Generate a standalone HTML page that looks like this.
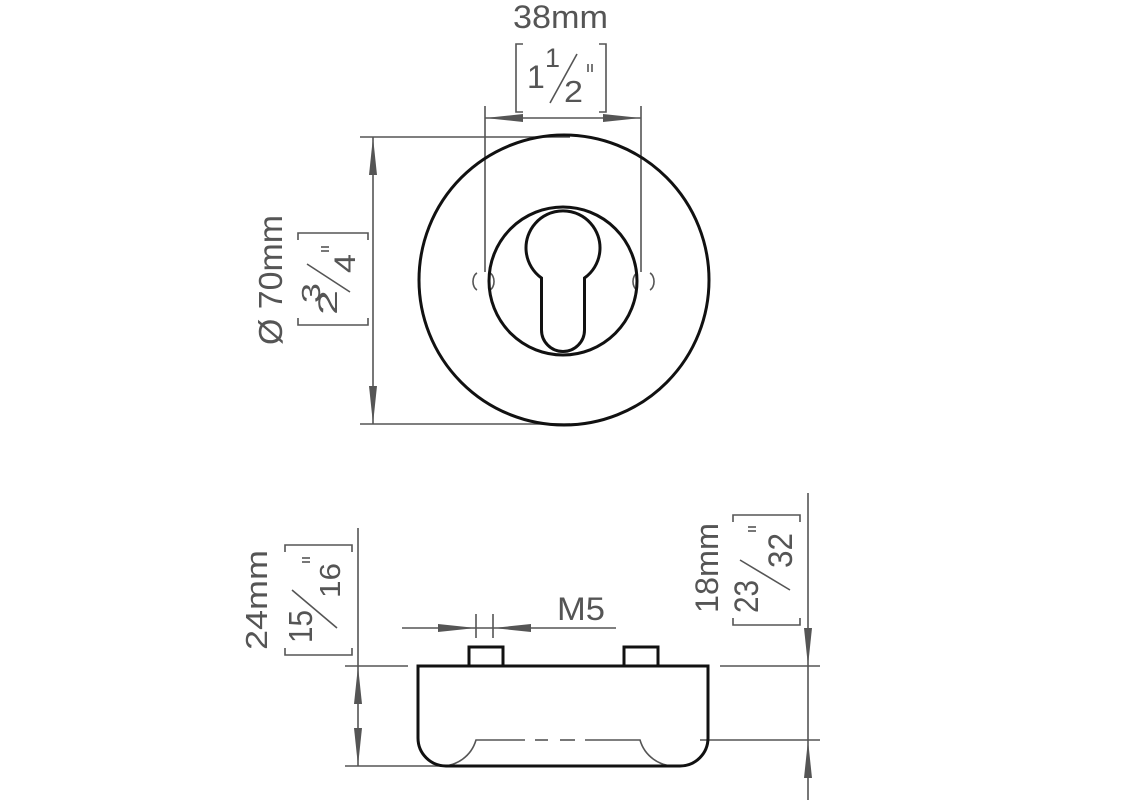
<!DOCTYPE html>
<html><head><meta charset="utf-8"><style>
html,body{margin:0;padding:0;background:#fff;}
svg{display:block;}
text{font-family:"Liberation Sans",Arial,sans-serif;fill:#555;}
</style></head><body>
<svg width="1130" height="800" viewBox="0 0 1130 800" xmlns="http://www.w3.org/2000/svg">
<rect width="1130" height="800" fill="#fff"/>
<g stroke="#555" stroke-width="1.6" fill="none">
  <!-- 38mm dimension -->
  <line x1="485" y1="106" x2="485" y2="272"/>
  <line x1="641" y1="106" x2="641" y2="272"/>
  <line x1="485" y1="118" x2="641" y2="118"/>
  <polyline points="523,44 516,44 516,112 523,112"/>
  <polyline points="599,44 606,44 606,112 599,112"/>
  <line x1="550" y1="103" x2="577" y2="54"/>
  <line x1="588" y1="64" x2="588" y2="72"/>
  <line x1="592" y1="64" x2="592" y2="72"/>
  <!-- 70mm dimension -->
  <line x1="360" y1="137" x2="570" y2="137"/>
  <line x1="360" y1="424" x2="570" y2="424"/>
  <line x1="373" y1="137" x2="373" y2="424"/>
  <polyline points="298,240 298,233 368,233 368,240"/>
  <polyline points="298,318 298,325 368,325 368,318"/>
  <line x1="307" y1="264" x2="350" y2="292"/>
  <line x1="321" y1="247" x2="329" y2="247"/>
  <line x1="321" y1="251" x2="329" y2="251"/>
  <!-- bottom left 24mm -->
  <line x1="345" y1="666" x2="408" y2="666"/>
  <line x1="345" y1="766" x2="445" y2="766"/>
  <line x1="358" y1="528" x2="358" y2="766"/>
  <polyline points="285,552 285,545 352,545 352,552"/>
  <polyline points="285,648 285,655 352,655 352,648"/>
  <line x1="292" y1="590" x2="337" y2="628"/>
  <line x1="302" y1="558" x2="310" y2="558"/>
  <line x1="302" y1="562" x2="310" y2="562"/>
  <!-- right 18mm -->
  <line x1="720" y1="666" x2="820" y2="666"/>
  <line x1="700" y1="740" x2="820" y2="740"/>
  <line x1="808" y1="493" x2="808" y2="800"/>
  <polyline points="733,522 733,515 800,515 800,522"/>
  <polyline points="733,618 733,625 800,625 800,618"/>
  <line x1="740" y1="560" x2="790" y2="590"/>
  <line x1="748" y1="527" x2="756" y2="527"/>
  <line x1="748" y1="531" x2="756" y2="531"/>
  <!-- M5 -->
  <line x1="402" y1="628" x2="616" y2="628"/>
  <line x1="476" y1="614" x2="476" y2="638"/>
  <line x1="493" y1="614" x2="493" y2="638"/>
  <!-- small arcs -->
  <path d="M477,273 A6,9 0 0 0 477,290"/>
  <path d="M490,273 A6,9 0 0 1 490,290"/>
  <path d="M637,273 A6,9 0 0 0 637,290"/>
  <path d="M650,273 A6,9 0 0 1 650,290"/>
  <!-- hidden line -->
  <path d="M440,766 A36,36 0 0 0 476,740 L490,740 L525,740"/>
  <line x1="535" y1="740" x2="548" y2="740"/>
  <line x1="560" y1="740" x2="575" y2="740"/>
  <path d="M585,740 L640,740 A36,36 0 0 0 676,766"/>
</g>
<g fill="#555">
  <polygon points="485,118 523,114 523,122"/>
  <polygon points="641,118 603,114 603,122"/>
  <polygon points="373,137 369,175 377,175"/>
  <polygon points="373,424 369,386 377,386"/>
  <polygon points="358,666 354,704 362,704"/>
  <polygon points="358,766 354,728 362,728"/>
  <polygon points="808,666 804,628 812,628"/>
  <polygon points="808,740 804,778 812,778"/>
  <polygon points="476,628 438,624 438,632"/>
  <polygon points="493,628 531,624 531,632"/>
</g>
<!-- object lines -->
<g stroke="#111" stroke-width="3" fill="none">
  <circle cx="564" cy="280" r="145"/>
  <circle cx="563" cy="281" r="74"/>
  <path d="M541.5,278 A37,37 0 1 1 584.5,278 L584.5,330 A21.5,21.5 0 0 1 541.5,330 Z"/>
  <path d="M418,666 L708,666 L708,738 A28,28 0 0 1 680,766 L446,766 A28,28 0 0 1 418,738 Z"/>
  <rect x="469" y="647" width="34" height="19"/>
  <rect x="624" y="647" width="34" height="19"/>
</g>
<!-- texts -->
<text x="513" y="28" font-size="32" textLength="95" lengthAdjust="spacingAndGlyphs">38mm</text>
<text x="527" y="88" font-size="32">1</text>
<text x="545" y="67" font-size="27">1</text>
<text x="564" y="102" font-size="31" textLength="19" lengthAdjust="spacingAndGlyphs">2</text>
<text x="557" y="620" font-size="32" textLength="48" lengthAdjust="spacingAndGlyphs">M5</text>

<g transform="translate(330,280) rotate(-90)">
  <text x="-65" y="-48" font-size="33" textLength="130" lengthAdjust="spacingAndGlyphs">Ø 70mm</text>
  <text x="-35" y="7" font-size="27" textLength="25" lengthAdjust="spacingAndGlyphs">2</text>
  <text x="-23" y="-10" font-size="26" textLength="20" lengthAdjust="spacingAndGlyphs">3</text>
  <text x="7" y="25" font-size="30" textLength="19" lengthAdjust="spacingAndGlyphs">4</text>
</g>
<g transform="translate(318,600) rotate(-90)">
  <text x="-50" y="-51" font-size="31" textLength="100" lengthAdjust="spacingAndGlyphs">24mm</text>
  <text x="-43" y="-6" font-size="33" textLength="33" lengthAdjust="spacingAndGlyphs">15</text>
  <text x="2" y="22" font-size="29" textLength="35" lengthAdjust="spacingAndGlyphs">16</text>
</g>
<g transform="translate(768,570) rotate(-90)">
  <text x="-43" y="-50" font-size="32" textLength="90" lengthAdjust="spacingAndGlyphs">18mm</text>
  <text x="-43" y="-10" font-size="34" textLength="33" lengthAdjust="spacingAndGlyphs">23</text>
  <text x="2" y="24" font-size="34" textLength="35" lengthAdjust="spacingAndGlyphs">32</text>
</g>
</svg>
</body></html>
